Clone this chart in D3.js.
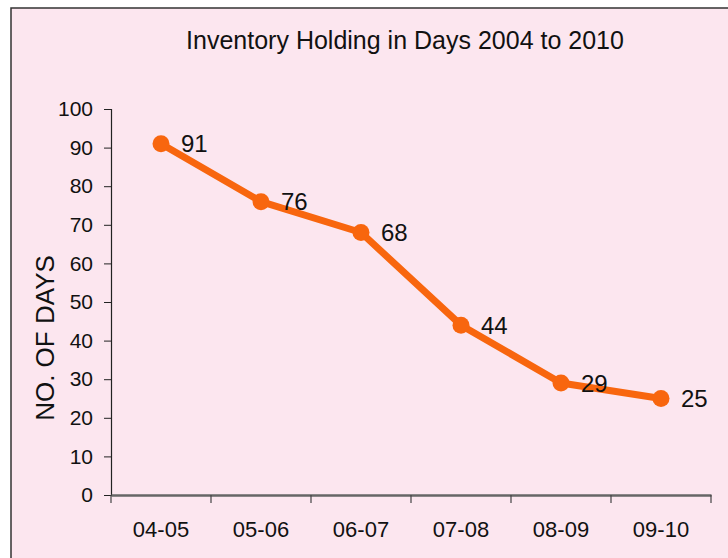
<!DOCTYPE html>
<html><head><meta charset="utf-8">
<script src="https://cdn.jsdelivr.net/npm/d3@7"></script>
<style>html,body{margin:0;padding:0;background:#fff;}svg{display:block;}</style>
</head><body>
<script>
const title = "Inventory Holding in Days 2004 to 2010";
const yTitle = "NO. OF DAYS";
const categories = ["04-05","05-06","06-07","07-08","08-09","09-10"];
const days = [91, 76, 68, 44, 29, 25];
const yTicks = [0,10,20,30,40,50,60,70,80,90,100];

const W = 728, H = 558;
const svg = d3.select("body").append("svg").attr("width", W).attr("height", H);
svg.append("rect").attr("x", 11).attr("y", 8).attr("width", W).attr("height", H)
  .attr("fill", "#fce6ef").attr("stroke", "#333").attr("stroke-width", 1.5);

const x = d3.scaleBand().domain(categories).range([111, 711]);
const y = d3.scaleLinear().domain([0, 100]).range([495, 109]);
const font = "Liberation Sans, Arial, sans-serif";

svg.append("text").attr("x", 405).attr("y", 49).attr("text-anchor", "middle")
  .attr("font-family", font).attr("font-size", 25).attr("fill", "#111").text(title);

const ya = svg.append("g").attr("transform", "translate(111,0)")
  .call(d3.axisLeft(y).tickValues(yTicks).tickSize(7).tickPadding(11));
ya.select(".domain").attr("stroke", "#222").attr("stroke-width", 1.2);
ya.selectAll(".tick line").attr("stroke", "#222");
ya.selectAll("text").attr("font-family", font).attr("font-size", 21).attr("fill", "#111");

const xa = svg.append("g").attr("transform", "translate(0,495)")
  .call(d3.axisBottom(x).tickSize(0).tickPadding(26));
xa.select(".domain").attr("stroke", "#666").attr("stroke-width", 2.5);
xa.selectAll("text").attr("font-family", font).attr("font-size", 22).attr("fill", "#111");
const bounds = categories.map(c => x(c)).concat([x.range()[1]]);
svg.append("g").selectAll("line").data(bounds).join("line")
  .attr("x1", d => d).attr("x2", d => d).attr("y1", 495).attr("y2", 503)
  .attr("stroke", "#444").attr("stroke-width", 1.2);

svg.append("text").attr("transform", "translate(54,338) rotate(-90)")
  .attr("text-anchor", "middle").attr("font-family", font).attr("font-size", 26)
  .attr("fill", "#111").text(yTitle);

const cx = c => x(c) + x.bandwidth() / 2;
const color = "#f8660e";
svg.append("path").datum(days)
  .attr("d", d3.line().x((d, i) => cx(categories[i])).y(d => y(d)))
  .attr("fill", "none").attr("stroke", color).attr("stroke-width", 7).attr("stroke-linejoin", "round");
svg.append("g").selectAll("circle").data(days).join("circle")
  .attr("cx", (d, i) => cx(categories[i])).attr("cy", d => y(d)).attr("r", 8.5).attr("fill", color);
svg.append("g").selectAll("text").data(days).join("text")
  .attr("x", (d, i) => cx(categories[i]) + 20).attr("y", d => y(d)).attr("dy", "0.36em")
  .attr("font-family", font).attr("font-size", 24).attr("fill", "#111").text(d => d);
</script>
</body></html>
